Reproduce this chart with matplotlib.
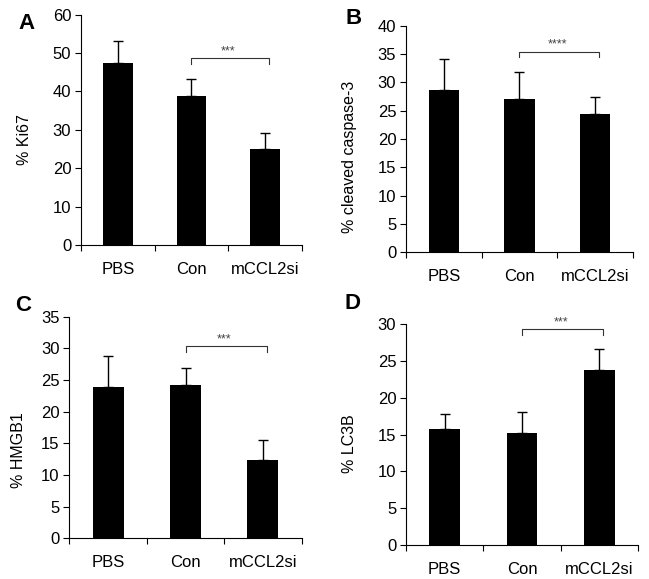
import matplotlib.pyplot as plt

plt.rcParams['font.family'] = ['Liberation Sans', 'DejaVu Sans']

groups = ['PBS', 'Con', 'mCCL2si']

ki67 = [47.3, 38.9, 25.0]
ki67_err = [5.9, 4.3, 4.3]
casp3 = [28.6, 27.0, 24.4]
casp3_err = [5.5, 4.9, 3.0]
hmgb1 = [23.9, 24.2, 12.4]
hmgb1_err = [4.9, 2.7, 3.1]
lc3b = [15.8, 15.25, 23.8]
lc3b_err = [2.0, 2.75, 2.8]

# label, ylabel, values, errors, ymax, ystep, bracket y, stars, axes rect,
# ylabel position, panel letter position (axes fraction)
panels = [
    ('A', '% Ki67', ki67, ki67_err, 60, 10, 48.6, '***',
     [0.1248, 0.5769, 0.3405, 0.3977], (-0.222, 0.458), (-0.247, 1.007)),
    ('B', '% cleaved caspase-3', casp3, casp3_err, 40, 5, 35.4, '****',
     [0.6256, 0.5642, 0.3497, 0.3914], (-0.215, 0.42), (-0.231, 1.078)),
    ('C', '% HMGB1', hmgb1, hmgb1_err, 35, 5, 30.3, '***',
     [0.1068, 0.0703, 0.3581, 0.3827], (-0.187, 0.40), (-0.20, 1.098)),
    ('D', '% LC3B', lc3b, lc3b_err, 30, 5, 29.3, '***',
     [0.6256, 0.0587, 0.3575, 0.3817], (-0.21, 0.46), (-0.23, 1.14)),
]

fig = plt.figure(figsize=(6.49, 5.79), dpi=100)

for lab, ylab, vals, errs, ymax, ystep, by, stars, rect, lpos, ppos in panels:
    ax = fig.add_axes(rect)
    x = range(len(groups))
    ax.bar(x, vals, width=0.4, color='black', zorder=2)
    ax.errorbar(x, vals, yerr=[[0] * 3, errs], fmt='none', ecolor='black',
                elinewidth=1, capsize=3.5, capthick=1, zorder=1)
    ax.set_xlim(-0.5, 2.5)
    ax.set_ylim(0, ymax)
    ax.set_yticks(range(0, ymax + 1, ystep))
    ax.set_xticks([-0.5, 0.5, 1.5, 2.5])
    ax.set_xticklabels([])
    ax.set_xticks([0, 1, 2], minor=True)
    ax.set_xticklabels(groups, minor=True)
    ax.tick_params(axis='x', which='major', direction='out', length=4, width=0.8)
    ax.tick_params(axis='x', which='minor', length=0, pad=12, labelsize=12)
    ax.tick_params(axis='y', direction='out', length=4, width=0.8, labelsize=12, pad=3)
    for s in ['top', 'right']:
        ax.spines[s].set_visible(False)
    ax.spines['left'].set_linewidth(0.8)
    ax.spines['bottom'].set_linewidth(0.8)
    ax.set_ylabel(ylab, fontsize=11.5)
    ax.yaxis.set_label_coords(*lpos)

    # significance bracket between Con and mCCL2si
    drop = ymax * 0.025
    ax.plot([1, 1, 2.05, 2.05], [by - drop, by, by, by - drop], color='#333333',
            lw=0.8, clip_on=False)
    ax.text(1.5, by + ymax * 0.005, stars, ha='center', va='bottom', fontsize=9,
            color='#444444')

    ax.text(ppos[0], ppos[1], lab, transform=ax.transAxes, fontsize=16,
            fontweight='bold', ha='center', va='top')

fig.savefig('out.png', dpi=100)
